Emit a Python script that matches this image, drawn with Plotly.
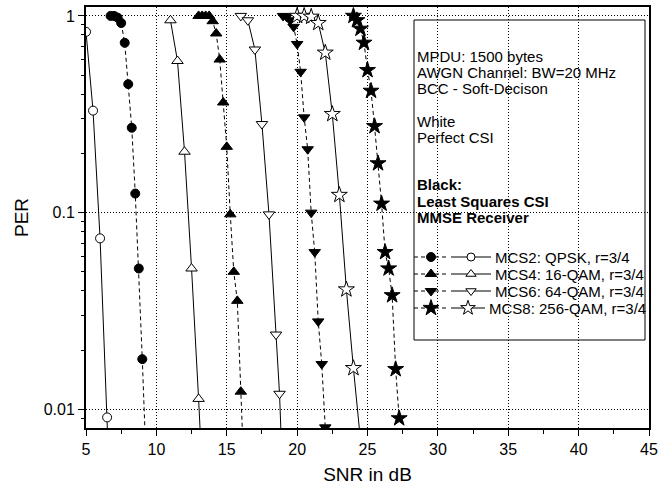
import plotly.graph_objects as go

# ---------------- data ----------------
mcs2_white_snr = [5.0, 5.5, 6.0, 6.5, 7.0]
mcs2_white_per = [0.83, 0.33, 0.074, 0.0091, 0.001]
mcs2_black_snr = [6.75, 7.0, 7.25, 7.5, 7.75, 8.0, 8.25, 8.5, 8.75, 9.0, 9.25]
mcs2_black_per = [1.0, 1.0, 0.98, 0.92, 0.73, 0.45, 0.27, 0.125, 0.052, 0.018, 0.0059]

mcs4_white_snr = [11.0, 11.5, 12.0, 12.5, 13.0, 13.5]
mcs4_white_per = [0.95, 0.59, 0.204, 0.052, 0.0113, 0.0021]
mcs4_black_snr = [13.0, 13.25, 13.5, 13.75, 14.0, 14.25, 14.5, 14.75, 15.0, 15.25, 15.5, 15.75, 16.0, 16.25]
mcs4_black_per = [1.0, 1.0, 1.0, 1.0, 0.94, 0.814, 0.60, 0.363, 0.216, 0.098, 0.050, 0.0356, 0.0123, 0.0043]

mcs6_white_snr = [16.0, 16.5, 17.0, 17.5, 18.0, 18.5, 18.75, 19.0]
mcs6_white_per = [1.0, 0.95, 0.675, 0.282, 0.098, 0.024, 0.012, 0.004]
mcs6_black_snr = [19.0, 19.25, 19.5, 19.75, 20.0, 20.25, 20.5, 20.75, 21.0, 21.25, 21.5, 21.75, 22.0]
mcs6_black_per = [1.0, 0.99, 0.95, 0.88, 0.72, 0.52, 0.305, 0.21, 0.10, 0.063, 0.028, 0.017, 0.0081]

mcs8_white_snr = [20.0, 20.5, 21.0, 21.5, 22.0, 22.5, 23.0, 23.5, 24.0, 24.5]
mcs8_white_per = [1.0, 1.0, 0.99, 0.92, 0.65, 0.317, 0.123, 0.0407, 0.0162, 0.007]
mcs8_black_snr = [24.0, 24.25, 24.5, 24.75, 25.0, 25.25, 25.5, 25.75, 26.0, 26.25, 26.5, 26.75, 27.0, 27.25]
mcs8_black_per = [1.0, 0.95, 0.86, 0.73, 0.53, 0.416, 0.275, 0.178, 0.111, 0.063, 0.052, 0.038, 0.016, 0.009]

series_labels = ["MCS2: QPSK, r=3/4", "MCS4: 16-QAM, r=3/4", "MCS6: 64-QAM, r=3/4", "MCS8: 256-QAM, r=3/4"]
info_text = ["MPDU: 1500 bytes", "AWGN Channel: BW=20 MHz", "BCC - Soft-Decison",
             "White", "Perfect CSI",
             "Black:", "Least Squares CSI", "MMSE Receiver"]
x_tick_vals = [5, 10, 15, 20, 25, 30, 35, 40, 45]
y_tick_vals = [0.01, 0.1, 1]
y_tick_text = ["0.01", "0.1", "1"]

# ---------------- layout geometry ----------------
W, H = 660, 494
L, R, T, B = 86, 11, 7, 66
PW, PH = W - L - R, H - T - B
FONT = "Liberation Sans, Arial, Helvetica, sans-serif"
BX = 414  # legend box left edge (px)


def paper_x(px):
    return (px - L) / PW


def paper_y(py):
    return (H - B - py) / PH


DASH = "4px,3px"
styles = [
    ("circle", 9),
    ("triangle-up", 10),
    ("triangle-down", 10),
    ("star", 12),
]
data_sets = [
    (mcs2_black_snr, mcs2_black_per, mcs2_white_snr, mcs2_white_per),
    (mcs4_black_snr, mcs4_black_per, mcs4_white_snr, mcs4_white_per),
    (mcs6_black_snr, mcs6_black_per, mcs6_white_snr, mcs6_white_per),
    (mcs8_black_snr, mcs8_black_per, mcs8_white_snr, mcs8_white_per),
]

fig = go.Figure()

for (sym, size), (bx, by, wx, wy), name in zip(styles, data_sets, series_labels):
    fig.add_trace(go.Scatter(
        x=bx, y=by, mode="lines+markers", name=name + " (black)", showlegend=False,
        line=dict(color="black", width=1, dash=DASH),
        marker=dict(symbol=sym, size=size, color="black", line=dict(color="black", width=1)),
    ))
    fig.add_trace(go.Scatter(
        x=wx, y=wy, mode="lines+markers", name=name + " (white)", showlegend=False,
        line=dict(color="black", width=1),
        marker=dict(symbol=sym, size=size, color="white", line=dict(color="black", width=1)),
    ))

# ---------------- legend samples on an overlay pixel axis ----------------
row_y = [257, 274, 291, 308]
text_x = [BX + 80, BX + 80, BX + 80, BX + 74]
for (sym, size), yy, tx in zip(styles, row_y, text_x):
    fig.add_trace(go.Scatter(
        x=[BX, BX + 32], y=[yy, yy], mode="lines", xaxis="x2", yaxis="y2", showlegend=False,
        line=dict(color="black", width=1, dash=DASH), hoverinfo="skip"))
    fig.add_trace(go.Scatter(
        x=[BX + 17], y=[yy], mode="markers", xaxis="x2", yaxis="y2", showlegend=False,
        marker=dict(symbol=sym, size=size, color="black", line=dict(color="black", width=1)),
        hoverinfo="skip"))
    fig.add_trace(go.Scatter(
        x=[BX + 37, tx - 3], y=[yy, yy], mode="lines", xaxis="x2", yaxis="y2", showlegend=False,
        line=dict(color="black", width=1), hoverinfo="skip"))
    fig.add_trace(go.Scatter(
        x=[(BX + 37 + tx - 3) / 2], y=[yy], mode="markers", xaxis="x2", yaxis="y2", showlegend=False,
        marker=dict(symbol=sym, size=size - 1, color="white", line=dict(color="black", width=1)),
        hoverinfo="skip"))

annotations = []
info_y = [57, 73, 89, 121, 137, 185, 201, 217]
for i, (txt, yy) in enumerate(zip(info_text, info_y)):
    annotations.append(dict(
        text=("<b>%s</b>" % txt) if i >= 5 else txt,
        x=paper_x(BX + 2), y=paper_y(yy), xref="paper", yref="paper",
        xanchor="left", yanchor="middle", showarrow=False, borderpad=0,
        font=dict(size=15, color="black", family=FONT)))
for txt, yy, tx in zip(series_labels, row_y, text_x):
    annotations.append(dict(
        text=txt, x=paper_x(tx), y=paper_y(yy), xref="paper", yref="paper",
        xanchor="left", yanchor="middle", showarrow=False, borderpad=0,
        font=dict(size=15, color="black", family=FONT)))

shapes = [dict(
    type="rect", xref="paper", yref="paper",
    x0=paper_x(BX), x1=paper_x(W - R - 4), y0=paper_y(340), y1=paper_y(20),
    line=dict(color="black", width=1), fillcolor="white", layer="between")]

y_minor = [0.009] + [k / 100 for k in range(2, 10)] + [k / 10 for k in range(2, 10)]

fig.update_layout(
    width=W, height=H,
    margin=dict(l=L, r=R, t=T, b=B, autoexpand=False),
    paper_bgcolor="white", plot_bgcolor="white",
    font=dict(family=FONT, color="black", size=16),
    showlegend=False,
    hovermode=False,
    annotations=annotations,
    shapes=shapes,
    xaxis=dict(
        range=[5, 45], tickvals=x_tick_vals, ticks="outside", ticklen=6, tickwidth=1,
        tickcolor="black", showline=True, linecolor="black", linewidth=2, mirror=True,
        showgrid=True, gridcolor="black", gridwidth=1, griddash="1px,2px",
        zeroline=False, tickfont=dict(size=16), ticklabeloverflow="allow",
        minor=dict(dtick=2.5, tick0=5, ticks="outside", ticklen=4, tickcolor="black", showgrid=False),
        title=dict(text="SNR in dB", font=dict(size=19), standoff=10),
    ),
    yaxis=dict(
        type="log", range=[-2.0948, 0.0453], tickvals=y_tick_vals, ticktext=y_tick_text,
        ticks="outside", ticklen=6, tickwidth=1, tickcolor="black",
        showline=True, linecolor="black", linewidth=2, mirror=True,
        showgrid=True, gridcolor="black", gridwidth=1, griddash="1px,2px",
        zeroline=False, tickfont=dict(size=16), ticklabeloverflow="allow",
        minor=dict(tickvals=y_minor, ticks="outside", ticklen=3, tickcolor="black", showgrid=False),
        title=dict(text="PER", font=dict(size=19), standoff=10),
    ),
    xaxis2=dict(overlaying="x", anchor="y2", range=[L, W - R], visible=False, fixedrange=True),
    yaxis2=dict(overlaying="y", anchor="x2", range=[H - B, T], visible=False, fixedrange=True),
)

fig.write_html(
    "out.html",
    config={"displayModeBar": False, "staticPlot": True},
    post_script="document.body.style.margin='0';document.body.style.padding='0';"
                "document.body.style.overflow='hidden';",
)
